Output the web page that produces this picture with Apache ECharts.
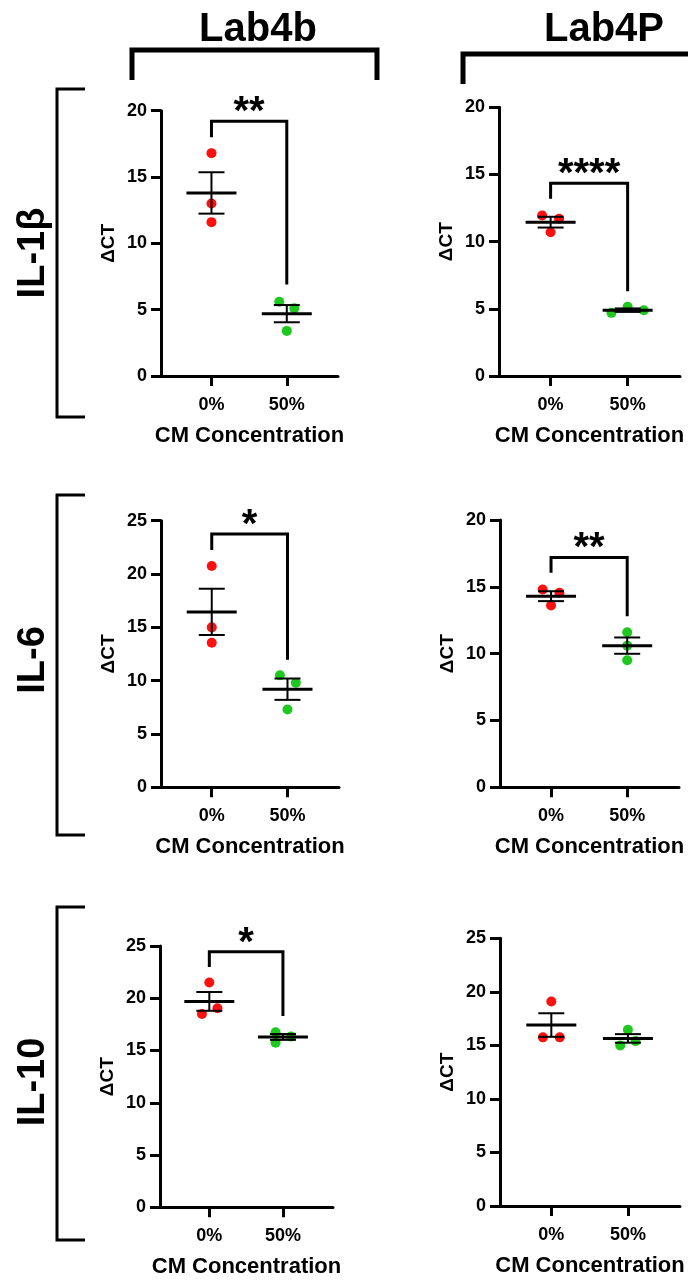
<!DOCTYPE html>
<html><head><meta charset="utf-8">
<script src="https://cdn.jsdelivr.net/npm/echarts@6/dist/echarts.min.js"></script>
<style>html,body{margin:0;padding:0;background:#fff}#c{width:688px;height:1280px}</style>
</head><body><div id="c"></div><script>
// ---------------- data ----------------
const groups = ['0%', '50%'];
const columns = ['Lab4b', 'Lab4P'];
const rows = ['IL-1β', 'IL-6', 'IL-10'];
const yAxisName = 'ΔCT';
const xAxisName = 'CM Concentration';
const yMaxes = [20, 20, 25, 20, 25, 25];   // panel order: row by row, Lab4b then Lab4P
const yStep = 5;

// IL-1β, Lab4b
const l4b_il1b_0 = [16.8, 13.0, 11.6];
const l4b_il1b_50 = [5.6, 5.1, 3.4];
const l4b_il1b_0_dx = [0, 0, 0];
const l4b_il1b_50_dx = [-0.1, 0.1, 0];
const l4b_il1b_mean = [13.8, 4.7];
const l4b_il1b_sem = [1.56, 0.65];
const l4b_il1b_bracket = [18.0, 19.2, 6.9];   // left end, top, right end
const l4b_il1b_stars = '**';
// IL-1β, Lab4P
const l4p_il1b_0 = [11.95, 11.7, 10.7];
const l4p_il1b_50 = [4.7, 5.15, 4.9];
const l4p_il1b_0_dx = [-0.11, 0.11, 0];
const l4p_il1b_50_dx = [-0.21, 0, 0.21];
const l4p_il1b_mean = [11.45, 4.9];
const l4p_il1b_sem = [0.4, 0.13];
const l4p_il1b_bracket = [13.2, 14.35, 6.3];
const l4p_il1b_stars = '****';
// IL-6, Lab4b
const l4b_il6_0 = [20.75, 15.0, 13.55];
const l4b_il6_50 = [10.5, 9.8, 7.3];
const l4b_il6_0_dx = [0, 0, 0];
const l4b_il6_50_dx = [-0.1, 0.11, 0];
const l4b_il6_mean = [16.45, 9.2];
const l4b_il6_sem = [2.17, 1.0];
const l4b_il6_bracket = [22.25, 23.75, 11.95];
const l4b_il6_stars = '*';
// IL-6, Lab4P
const l4p_il6_0 = [14.8, 14.55, 13.6];
const l4p_il6_50 = [11.6, 10.6, 9.5];
const l4p_il6_0_dx = [-0.11, 0.11, 0];
const l4p_il6_50_dx = [0, 0, 0];
const l4p_il6_mean = [14.3, 10.6];
const l4p_il6_sem = [0.37, 0.61];
const l4p_il6_bracket = [16.05, 17.2, 12.8];
const l4p_il6_stars = '**';
// IL-10, Lab4b
const l4b_il10_0 = [21.5, 19.05, 18.5];
const l4b_il10_50 = [16.75, 16.35, 15.75];
const l4b_il10_0_dx = [0, 0.11, -0.1];
const l4b_il10_50_dx = [-0.1, 0.11, -0.1];
const l4b_il10_mean = [19.7, 16.3];
const l4b_il10_sem = [0.9, 0.28];
const l4b_il10_bracket = [23.0, 24.45, 18.3];
const l4b_il10_stars = '*';
// IL-10, Lab4P
const l4p_il10_0 = [19.1, 15.75, 15.75];
const l4p_il10_50 = [16.45, 15.0, 15.4];
const l4p_il10_0_dx = [0, -0.11, 0.11];
const l4p_il10_50_dx = [0, -0.1, 0.1];
const l4p_il10_mean = [16.9, 15.65];
const l4p_il10_sem = [1.1, 0.4];

// ---------------- assemble ----------------
const panels = [
  {p0: l4b_il1b_0, p50: l4b_il1b_50, d0: l4b_il1b_0_dx, d50: l4b_il1b_50_dx, mean: l4b_il1b_mean, sem: l4b_il1b_sem, br: l4b_il1b_bracket, st: l4b_il1b_stars},
  {p0: l4p_il1b_0, p50: l4p_il1b_50, d0: l4p_il1b_0_dx, d50: l4p_il1b_50_dx, mean: l4p_il1b_mean, sem: l4p_il1b_sem, br: l4p_il1b_bracket, st: l4p_il1b_stars},
  {p0: l4b_il6_0, p50: l4b_il6_50, d0: l4b_il6_0_dx, d50: l4b_il6_50_dx, mean: l4b_il6_mean, sem: l4b_il6_sem, br: l4b_il6_bracket, st: l4b_il6_stars},
  {p0: l4p_il6_0, p50: l4p_il6_50, d0: l4p_il6_0_dx, d50: l4p_il6_50_dx, mean: l4p_il6_mean, sem: l4p_il6_sem, br: l4p_il6_bracket, st: l4p_il6_stars},
  {p0: l4b_il10_0, p50: l4b_il10_50, d0: l4b_il10_0_dx, d50: l4b_il10_50_dx, mean: l4b_il10_mean, sem: l4b_il10_sem, br: l4b_il10_bracket, st: l4b_il10_stars},
  {p0: l4p_il10_0, p50: l4p_il10_50, d0: l4p_il10_0_dx, d50: l4p_il10_50_dx, mean: l4p_il10_mean, sem: l4p_il10_sem, br: null, st: null}
];

// layout (pixels)
const gridRects = [
  {left: 161, top: 110.7, width: 177, height: 265.3},
  {left: 499, top: 107.3, width: 181, height: 268.7},
  {left: 161, top: 520.7, width: 178, height: 266.6},
  {left: 500, top: 520, width: 179, height: 267.3},
  {left: 160, top: 946, width: 173, height: 261.3},
  {left: 500, top: 938.3, width: 180, height: 267.7}
];
const FONT = '"Liberation Sans", Arial, sans-serif';
const RED = '#ff1010';
const GREEN = '#1ec81e';

const grid = [], xAxis = [], yAxis = [], series = [];
panels.forEach((p, i) => {
  grid.push(Object.assign({containLabel: false}, gridRects[i]));
  xAxis.push({
    type: 'value', gridIndex: i, min: 0.33, max: 2.68,
    axisLine: {show: true, onZero: false, lineStyle: {color: '#000', width: 3}},
    axisTick: {show: true, length: 10, customValues: [1, 2], lineStyle: {color: '#000', width: 3}},
    axisLabel: {show: true, customValues: [1, 2], margin: 20, color: '#000', fontFamily: FONT, fontWeight: 'bold', fontSize: 18,
      formatter: v => groups[Math.round(v) - 1] || ''},
    splitLine: {show: false},
    name: xAxisName, nameLocation: 'middle', nameGap: 49,
    nameTextStyle: {color: '#000', fontFamily: FONT, fontWeight: 'bold', fontSize: 22}
  });
  yAxis.push({
    type: 'value', gridIndex: i, min: 0, max: yMaxes[i], interval: yStep,
    axisLine: {show: true, lineStyle: {color: '#000', width: 3}},
    axisTick: {show: true, length: 10, lineStyle: {color: '#000', width: 3}},
    axisLabel: {margin: 14, color: '#000', fontFamily: FONT, fontWeight: 'bold', fontSize: 18},
    splitLine: {show: false},
    name: yAxisName, nameLocation: 'middle', nameGap: 43, nameRotate: 90,
    nameTextStyle: {color: '#000', fontFamily: FONT, fontWeight: 'bold', fontSize: 19}
  });
  series.push({
    type: 'scatter', xAxisIndex: i, yAxisIndex: i, symbolSize: 10,
    itemStyle: {color: RED, opacity: 1}, z: 2,
    data: p.p0.map((v, k) => [1 + p.d0[k], v])
  });
  series.push({
    type: 'scatter', xAxisIndex: i, yAxisIndex: i, symbolSize: 10,
    itemStyle: {color: GREEN, opacity: 1}, z: 2,
    data: p.p50.map((v, k) => [2 + p.d50[k], v])
  });
  series.push({
    type: 'custom', xAxisIndex: i, yAxisIndex: i, z: 3,
    data: p.mean.map((m, k) => [k + 1, m, p.sem[k]]),
    renderItem: (params, api) => {
      const x = api.value(0), m = api.value(1), s = api.value(2);
      const c = api.coord([x, m]), hi = api.coord([x, m + s]), lo = api.coord([x, m - s]);
      const st = {stroke: '#000', lineWidth: 2};
      return {type: 'group', children: [
        {type: 'line', shape: {x1: c[0], y1: hi[1], x2: c[0], y2: lo[1]}, style: st},
        {type: 'line', shape: {x1: c[0] - 13, y1: hi[1], x2: c[0] + 13, y2: hi[1]}, style: st},
        {type: 'line', shape: {x1: c[0] - 13, y1: lo[1], x2: c[0] + 13, y2: lo[1]}, style: st},
        {type: 'line', shape: {x1: c[0] - 25, y1: c[1], x2: c[0] + 25, y2: c[1]}, style: {stroke: '#000', lineWidth: 3}}
      ]};
    }
  });
  if (p.br) {
    series.push({
      type: 'custom', xAxisIndex: i, yAxisIndex: i, z: 3,
      data: [[1, 2, p.br[0], p.br[1], p.br[2]]],
      renderItem: (params, api) => {
        const a = api.coord([api.value(0), api.value(2)]);
        const b = api.coord([api.value(0), api.value(3)]);
        const c = api.coord([api.value(1), api.value(3)]);
        const d = api.coord([api.value(1), api.value(4)]);
        return {type: 'group', children: [
          {type: 'polyline', shape: {points: [a, b, c, d]}, style: {stroke: '#000', lineWidth: 3, fill: null}},
          {type: 'text', x: (b[0] + c[0]) / 2, y: b[1] - 8,
            style: {text: p.st, fill: '#000', font: 'bold 40px ' + FONT, align: 'center', verticalAlign: 'middle'}}
        ]};
      }
    });
  }
});

// decorations: column headers and row labels
const graphic = [];
const colCenters = [258, 604];
columns.forEach((c, j) => {
  graphic.push({type: 'text', x: colCenters[j], y: 30,
    style: {text: c, fill: '#000', font: 'bold 40px ' + FONT, align: 'center', verticalAlign: 'middle'}});
});
graphic.push({type: 'polyline', shape: {points: [[132, 80], [132, 50], [377, 50], [377, 80]]},
  style: {stroke: '#000', lineWidth: 5, fill: null}});
graphic.push({type: 'polyline', shape: {points: [[463, 84], [463, 54], [700, 54]]},
  style: {stroke: '#000', lineWidth: 5, fill: null}});
const rowSpans = [[89, 417], [495, 835], [907, 1240]];
const rowCenters = [253, 660, 1082];
rows.forEach((r, k) => {
  const [t, b] = rowSpans[k];
  graphic.push({type: 'polyline', shape: {points: [[85, t], [57, t], [57, b], [85, b]]},
    style: {stroke: '#000', lineWidth: 3, fill: null}});
  graphic.push({type: 'text', x: 34, y: rowCenters[k], rotation: Math.PI / 2,
    style: {text: r, fill: '#000', font: 'bold 38px ' + FONT, align: 'center', verticalAlign: 'middle'}});
});

const chart = echarts.init(document.getElementById('c'), null, {renderer: 'canvas'});
chart.setOption({animation: false, backgroundColor: '#fff', grid, xAxis, yAxis, series, graphic});
</script></body></html>
